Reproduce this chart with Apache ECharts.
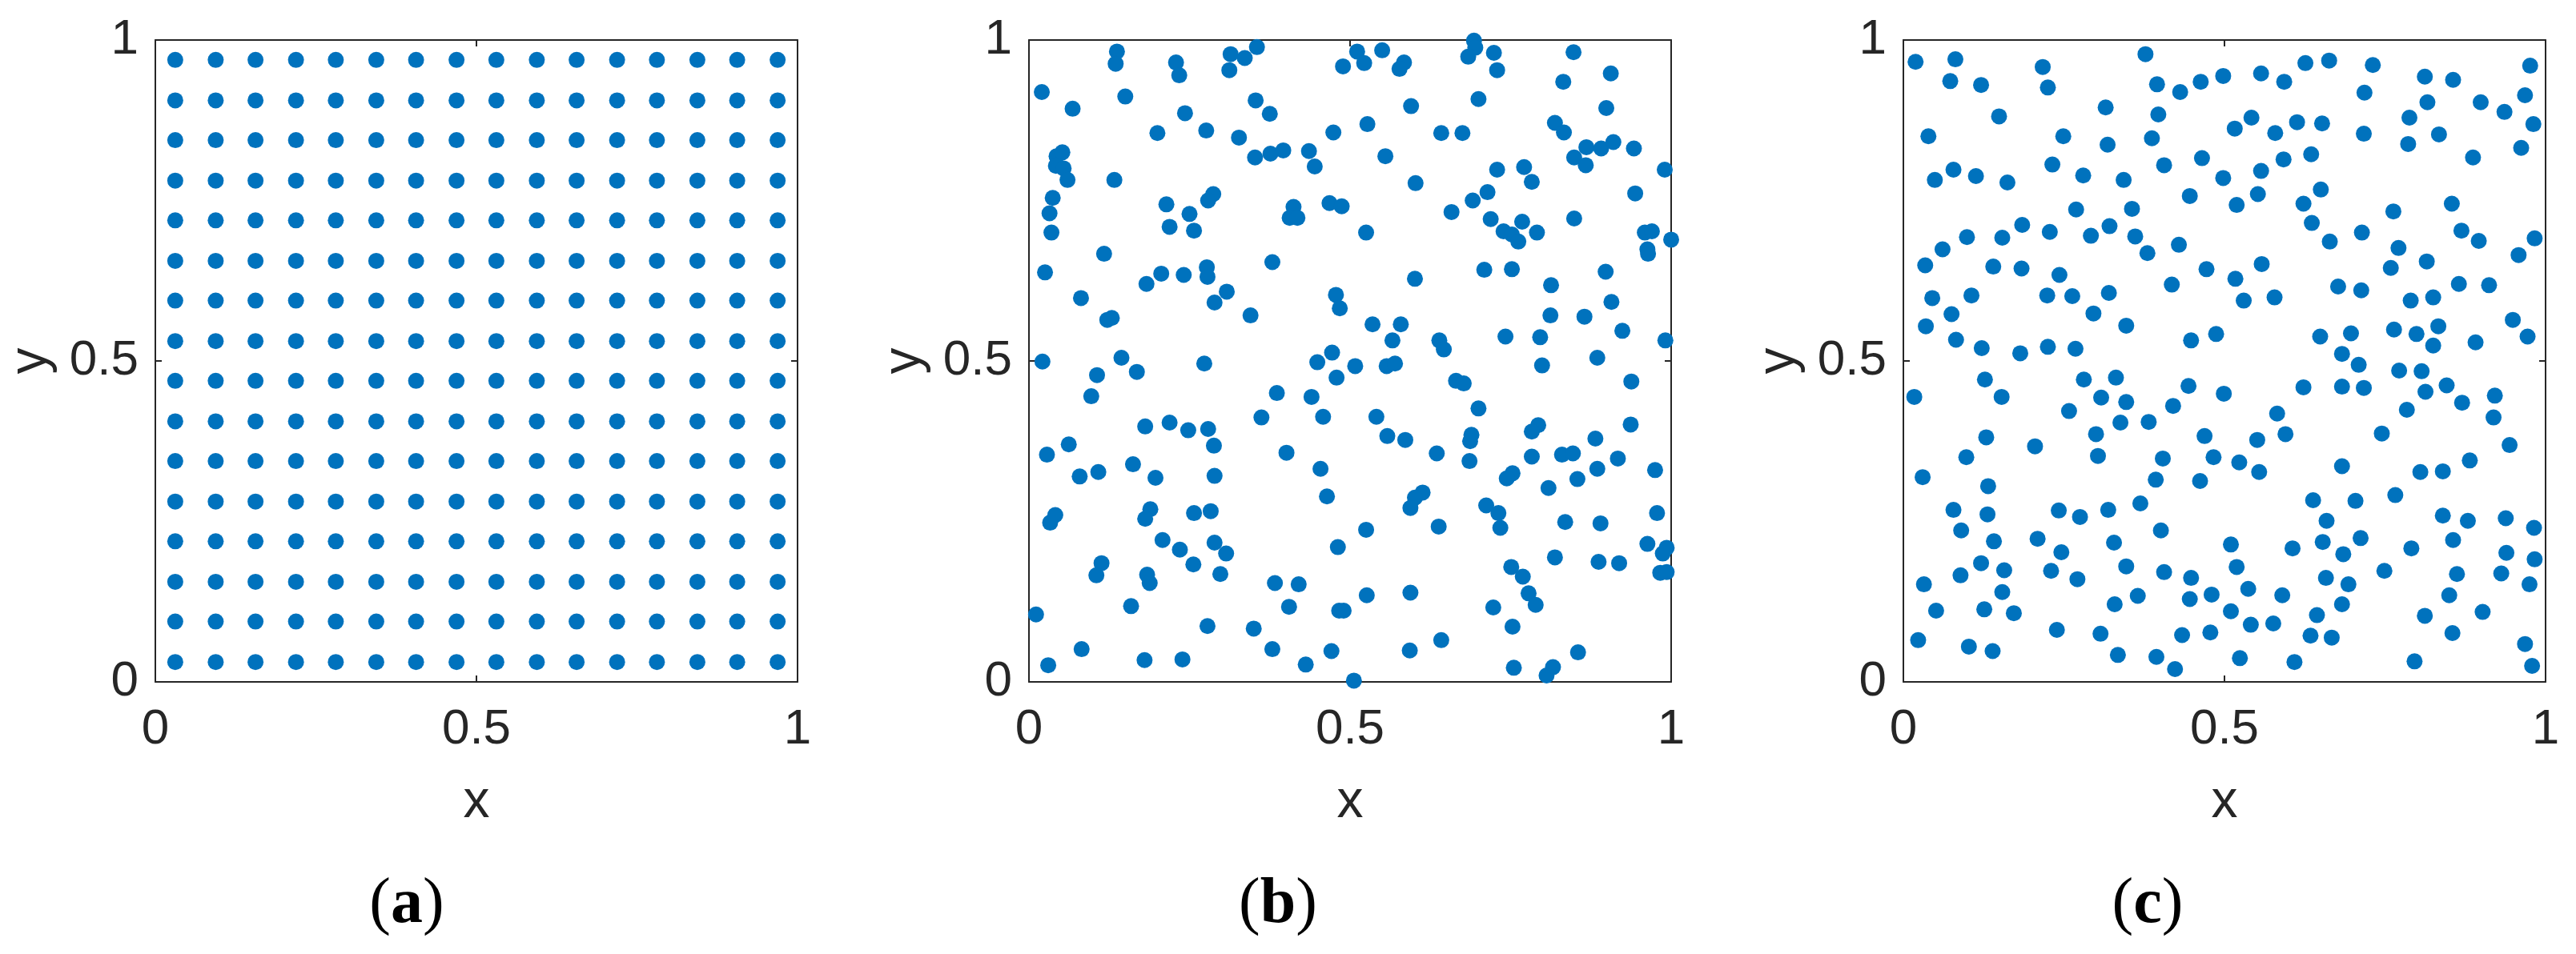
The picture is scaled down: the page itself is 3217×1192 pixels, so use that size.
<!DOCTYPE html>
<html>
<head>
<meta charset="utf-8">
<script src="https://cdn.jsdelivr.net/npm/echarts@6/dist/echarts.min.js"></script>
<style>
  html, body { margin: 0; padding: 0; background: #fff; }
  #chart { width: 3217px; height: 1192px; }
</style>
</head>
<body>
<div id="chart"></div>
<script>
// tick labels shared by every panel
const ticks = [0, 0.5, 1];
const panelLabels = ['a', 'b', 'c'];

// (a) regular lattice, same coordinates on both axes
const latticeCoords = [0.031, 0.094, 0.156, 0.219, 0.281, 0.344, 0.406, 0.469,
  0.531, 0.594, 0.656, 0.719, 0.781, 0.844, 0.906, 0.969];

// (b) random points
const pointsB = [
  [0.137,0.982],[0.135,0.963],[0.229,0.965],[0.234,0.945],[0.314,0.978],[0.336,0.972],[0.355,0.989],[0.312,0.953],
  [0.489,0.959],[0.020,0.919],[0.068,0.893],[0.150,0.912],[0.243,0.886],[0.353,0.906],[0.375,0.885],[0.200,0.855],
  [0.276,0.859],[0.327,0.848],[0.474,0.856],[0.043,0.819],[0.052,0.825],[0.042,0.804],[0.054,0.800],[0.060,0.782],
  [0.352,0.817],[0.376,0.823],[0.396,0.828],[0.436,0.827],[0.445,0.803],[0.133,0.782],[0.037,0.754],[0.032,0.730],
  [0.035,0.700],[0.214,0.744],[0.287,0.760],[0.279,0.750],[0.250,0.729],[0.219,0.709],[0.257,0.703],[0.412,0.740],
  [0.406,0.723],[0.418,0.723],[0.468,0.746],[0.487,0.741],[0.117,0.667],[0.025,0.638],[0.183,0.620],[0.206,0.636],
  [0.241,0.634],[0.277,0.646],[0.278,0.631],[0.379,0.654],[0.081,0.598],[0.308,0.608],[0.289,0.591],[0.345,0.571],
  [0.478,0.603],[0.484,0.582],[0.122,0.564],[0.129,0.567],[0.021,0.499],[0.144,0.505],[0.273,0.496],[0.472,0.513],
  [0.449,0.498],
  [0.511,0.982],[0.522,0.964],[0.550,0.984],[0.584,0.965],[0.577,0.955],[0.693,0.999],[0.695,0.988],[0.684,0.974],
  [0.724,0.980],[0.729,0.953],[0.848,0.981],[0.832,0.935],[0.906,0.948],[0.700,0.908],[0.595,0.897],[0.899,0.894],
  [0.527,0.869],[0.642,0.855],[0.675,0.855],[0.819,0.871],[0.833,0.856],[0.868,0.833],[0.891,0.831],[0.910,0.841],
  [0.849,0.817],[0.867,0.805],[0.942,0.831],[0.555,0.819],[0.729,0.798],[0.771,0.802],[0.783,0.779],[0.990,0.798],
  [0.602,0.777],[0.714,0.763],[0.691,0.750],[0.658,0.732],[0.719,0.721],[0.768,0.717],[0.739,0.702],[0.752,0.697],
  [0.762,0.686],[0.791,0.700],[0.849,0.722],[0.944,0.761],[0.525,0.700],[0.959,0.700],[0.970,0.702],[0.963,0.674],
  [0.964,0.667],[1.000,0.689],[0.709,0.642],[0.752,0.643],[0.601,0.628],[0.813,0.618],[0.898,0.639],[0.907,0.592],
  [0.812,0.571],[0.865,0.569],[0.535,0.557],[0.579,0.557],[0.566,0.532],[0.639,0.532],[0.646,0.518],[0.742,0.538],
  [0.796,0.537],[0.924,0.547],[0.991,0.532],[0.885,0.505],
  [0.106,0.478],[0.168,0.483],[0.479,0.474],[0.097,0.445],[0.386,0.450],[0.440,0.444],[0.362,0.412],[0.458,0.413],
  [0.181,0.398],[0.219,0.404],[0.248,0.392],[0.279,0.394],[0.288,0.368],[0.062,0.370],[0.028,0.354],[0.401,0.357],
  [0.162,0.339],[0.079,0.320],[0.108,0.327],[0.197,0.318],[0.289,0.321],[0.454,0.332],[0.464,0.289],[0.041,0.260],
  [0.033,0.248],[0.189,0.269],[0.181,0.254],[0.257,0.263],[0.283,0.266],[0.208,0.221],[0.235,0.206],[0.289,0.217],
  [0.307,0.200],[0.256,0.183],[0.298,0.168],[0.481,0.210],[0.113,0.185],[0.105,0.166],[0.184,0.167],[0.188,0.154],
  [0.383,0.154],[0.420,0.152],[0.405,0.117],[0.483,0.111],[0.490,0.111],[0.159,0.118],[0.011,0.105],[0.278,0.087],
  [0.350,0.083],[0.082,0.051],[0.379,0.051],[0.471,0.048],[0.030,0.026],[0.180,0.034],[0.239,0.035],[0.431,0.027],
  [0.508,0.492],[0.557,0.492],[0.570,0.496],[0.799,0.493],[0.665,0.469],[0.677,0.465],[0.938,0.468],[0.700,0.426],
  [0.541,0.413],[0.558,0.383],[0.586,0.377],[0.689,0.385],[0.687,0.375],[0.635,0.356],[0.686,0.344],[0.793,0.400],
  [0.783,0.390],[0.937,0.401],[0.882,0.379],[0.783,0.351],[0.830,0.354],[0.847,0.356],[0.917,0.348],[0.885,0.332],
  [0.854,0.316],[0.975,0.330],[0.753,0.325],[0.744,0.317],[0.809,0.302],[0.613,0.295],[0.601,0.287],[0.594,0.271],
  [0.712,0.275],[0.731,0.263],[0.734,0.240],[0.525,0.237],[0.638,0.242],[0.835,0.249],[0.890,0.247],[0.978,0.263],
  [0.963,0.215],[0.993,0.209],[0.987,0.200],[0.819,0.194],[0.887,0.187],[0.919,0.185],[0.983,0.170],[0.993,0.171],
  [0.751,0.179],[0.769,0.164],[0.778,0.138],[0.789,0.120],[0.526,0.135],[0.594,0.139],[0.723,0.116],[0.753,0.086],
  [0.642,0.065],[0.593,0.049],[0.755,0.022],[0.816,0.023],[0.806,0.010],[0.855,0.046],[0.506,0.002]
];

// (c) random points
const pointsC = [
  [0.019,0.966],[0.081,0.970],[0.073,0.936],[0.121,0.930],[0.217,0.958],[0.225,0.926],[0.377,0.978],[0.395,0.931],
  [0.431,0.919],[0.463,0.935],[0.315,0.895],[0.397,0.884],[0.149,0.881],[0.039,0.850],[0.249,0.850],[0.318,0.837],
  [0.387,0.847],[0.465,0.816],[0.406,0.805],[0.232,0.806],[0.078,0.798],[0.049,0.782],[0.113,0.788],[0.162,0.778],
  [0.280,0.789],[0.343,0.782],[0.446,0.757],[0.269,0.736],[0.356,0.737],[0.185,0.712],[0.228,0.701],[0.321,0.710],
  [0.292,0.695],[0.361,0.694],[0.099,0.693],[0.154,0.692],[0.061,0.674],[0.034,0.649],[0.140,0.647],[0.184,0.644],
  [0.380,0.668],[0.429,0.681],[0.472,0.643],[0.243,0.634],[0.418,0.619],[0.045,0.598],[0.106,0.602],[0.224,0.602],
  [0.263,0.601],[0.320,0.606],[0.075,0.573],[0.296,0.574],[0.035,0.554],[0.347,0.555],[0.082,0.533],[0.122,0.520],
  [0.182,0.512],[0.225,0.522],[0.268,0.519],[0.448,0.532],[0.487,0.542],
  [0.498,0.944],[0.557,0.948],[0.593,0.935],[0.626,0.964],[0.663,0.968],[0.731,0.961],[0.812,0.943],[0.856,0.938],
  [0.976,0.960],[0.718,0.918],[0.816,0.903],[0.899,0.903],[0.936,0.888],[0.968,0.914],[0.981,0.869],[0.542,0.879],
  [0.516,0.862],[0.579,0.855],[0.613,0.872],[0.652,0.870],[0.717,0.854],[0.788,0.879],[0.834,0.853],[0.786,0.838],
  [0.962,0.832],[0.887,0.817],[0.592,0.814],[0.635,0.822],[0.557,0.796],[0.498,0.785],[0.552,0.760],[0.519,0.743],
  [0.650,0.767],[0.623,0.745],[0.636,0.715],[0.763,0.733],[0.854,0.745],[0.869,0.703],[0.896,0.687],[0.983,0.691],
  [0.958,0.665],[0.664,0.686],[0.714,0.700],[0.771,0.676],[0.759,0.645],[0.815,0.655],[0.558,0.651],[0.517,0.628],
  [0.530,0.594],[0.578,0.599],[0.677,0.616],[0.713,0.610],[0.790,0.594],[0.825,0.599],[0.865,0.620],[0.912,0.618],
  [0.949,0.564],[0.972,0.538],[0.649,0.538],[0.697,0.543],[0.764,0.549],[0.799,0.542],[0.833,0.554],[0.825,0.524],
  [0.891,0.529],[0.683,0.511],
  [0.127,0.471],[0.017,0.444],[0.153,0.444],[0.281,0.471],[0.331,0.474],[0.444,0.461],[0.308,0.443],[0.347,0.436],
  [0.258,0.422],[0.420,0.430],[0.338,0.404],[0.382,0.405],[0.300,0.386],[0.469,0.383],[0.129,0.381],[0.205,0.367],
  [0.098,0.350],[0.303,0.352],[0.404,0.348],[0.483,0.350],[0.030,0.319],[0.132,0.305],[0.393,0.315],[0.462,0.313],
  [0.369,0.278],[0.078,0.268],[0.131,0.261],[0.242,0.267],[0.275,0.257],[0.319,0.268],[0.090,0.236],[0.401,0.236],
  [0.141,0.219],[0.209,0.223],[0.328,0.217],[0.246,0.202],[0.121,0.185],[0.157,0.174],[0.230,0.173],[0.271,0.160],
  [0.347,0.180],[0.406,0.171],[0.448,0.162],[0.089,0.166],[0.032,0.152],[0.154,0.140],[0.365,0.134],[0.446,0.129],
  [0.480,0.136],[0.329,0.121],[0.051,0.111],[0.126,0.113],[0.172,0.107],[0.239,0.081],[0.307,0.075],[0.434,0.073],
  [0.478,0.077],[0.023,0.065],[0.102,0.055],[0.139,0.048],[0.334,0.042],[0.394,0.039],[0.423,0.020],
  [0.709,0.494],[0.772,0.485],[0.807,0.484],[0.499,0.449],[0.623,0.459],[0.683,0.460],[0.717,0.458],[0.813,0.452],
  [0.846,0.462],[0.870,0.435],[0.921,0.446],[0.784,0.424],[0.919,0.412],[0.582,0.418],[0.595,0.386],[0.551,0.377],
  [0.745,0.387],[0.944,0.369],[0.523,0.342],[0.554,0.327],[0.683,0.336],[0.805,0.327],[0.840,0.328],[0.882,0.345],
  [0.766,0.291],[0.638,0.283],[0.704,0.282],[0.840,0.259],[0.879,0.251],[0.938,0.255],[0.982,0.240],[0.659,0.251],
  [0.510,0.214],[0.606,0.208],[0.653,0.218],[0.712,0.224],[0.685,0.199],[0.791,0.208],[0.856,0.221],[0.939,0.201],
  [0.983,0.191],[0.519,0.179],[0.749,0.173],[0.658,0.162],[0.693,0.152],[0.862,0.168],[0.931,0.169],[0.975,0.152],
  [0.537,0.145],[0.590,0.135],[0.850,0.135],[0.510,0.110],[0.683,0.121],[0.644,0.104],[0.812,0.103],[0.902,0.109],
  [0.541,0.089],[0.576,0.091],[0.634,0.072],[0.667,0.069],[0.855,0.076],[0.968,0.059],[0.524,0.037],[0.609,0.031],
  [0.796,0.032],[0.979,0.025]
];

const blue = '#0072bd';
const ink = '#262626';

// lattice for (a) built from the coordinate list
const pointsA = latticeCoords.flatMap(x => latticeCoords.map(y => [x, y]));
const panelData = [pointsA, pointsB, pointsC];

const panelLeft = [194, 1285, 2377];
const panelTop = 50;
const panelSize = 802;
const captionX = [508, 1596, 2682];

const chart = echarts.init(document.getElementById('chart'));

const lineStyle = { color: ink, width: 2 };
const tickStyle = { show: true, inside: true, length: 8, lineStyle: { color: ink, width: 2 } };
const labelFont = { color: ink, fontSize: 62, fontFamily: 'Liberation Sans, Arial, sans-serif' };
const nameFont = { color: ink, fontSize: 66, fontFamily: 'Liberation Sans, Arial, sans-serif' };

let grids = [], xAxes = [], yAxes = [], series = [];
panelData.forEach((pts, i) => {
  grids.push({ left: panelLeft[i], top: panelTop, width: panelSize, height: panelSize, outerBoundsMode: 'none' });
  const base = { type: 'value', min: ticks[0], max: ticks[ticks.length - 1], interval: ticks[1] - ticks[0],
    gridIndex: i, splitLine: { show: false }, axisLine: { show: true, onZero: false, lineStyle }, axisTick: tickStyle };
  xAxes.push(Object.assign({}, base, {
    position: 'bottom', name: 'x', nameLocation: 'middle', nameGap: 118, nameTextStyle: nameFont,
    axisLabel: Object.assign({ margin: 29 }, labelFont)
  }));
  xAxes.push(Object.assign({}, base, { position: 'top', axisLabel: { show: false } }));
  yAxes.push(Object.assign({}, base, {
    position: 'left', name: 'y', nameLocation: 'middle', nameGap: 122, nameTextStyle: nameFont,
    axisLabel: Object.assign({ margin: 21 }, labelFont)
  }));
  yAxes.push(Object.assign({}, base, { position: 'right', axisLabel: { show: false } }));
  series.push({
    type: 'scatter', xAxisIndex: 2 * i, yAxisIndex: 2 * i, data: pts,
    symbolSize: 20, clip: false, itemStyle: { color: blue, opacity: 1 }
  });
});

const captions = panelLabels.map((l, i) => ({
  type: 'text', x: captionX[i], y: 1131,
  style: {
    text: '{p|(}{b|' + l + '}{p|)}',
    align: 'center', verticalAlign: 'middle',
    rich: {
      p: { fontSize: 80, fontFamily: 'Liberation Serif, Times New Roman, serif', fill: '#000' },
      b: { fontSize: 80, fontWeight: 'bold', fontFamily: 'Liberation Serif, Times New Roman, serif', fill: '#000' }
    }
  }
}));

chart.setOption({
  animation: false,
  backgroundColor: '#fff',
  grid: grids,
  xAxis: xAxes,
  yAxis: yAxes,
  series: series,
  graphic: captions
});
</script>
</body>
</html>
